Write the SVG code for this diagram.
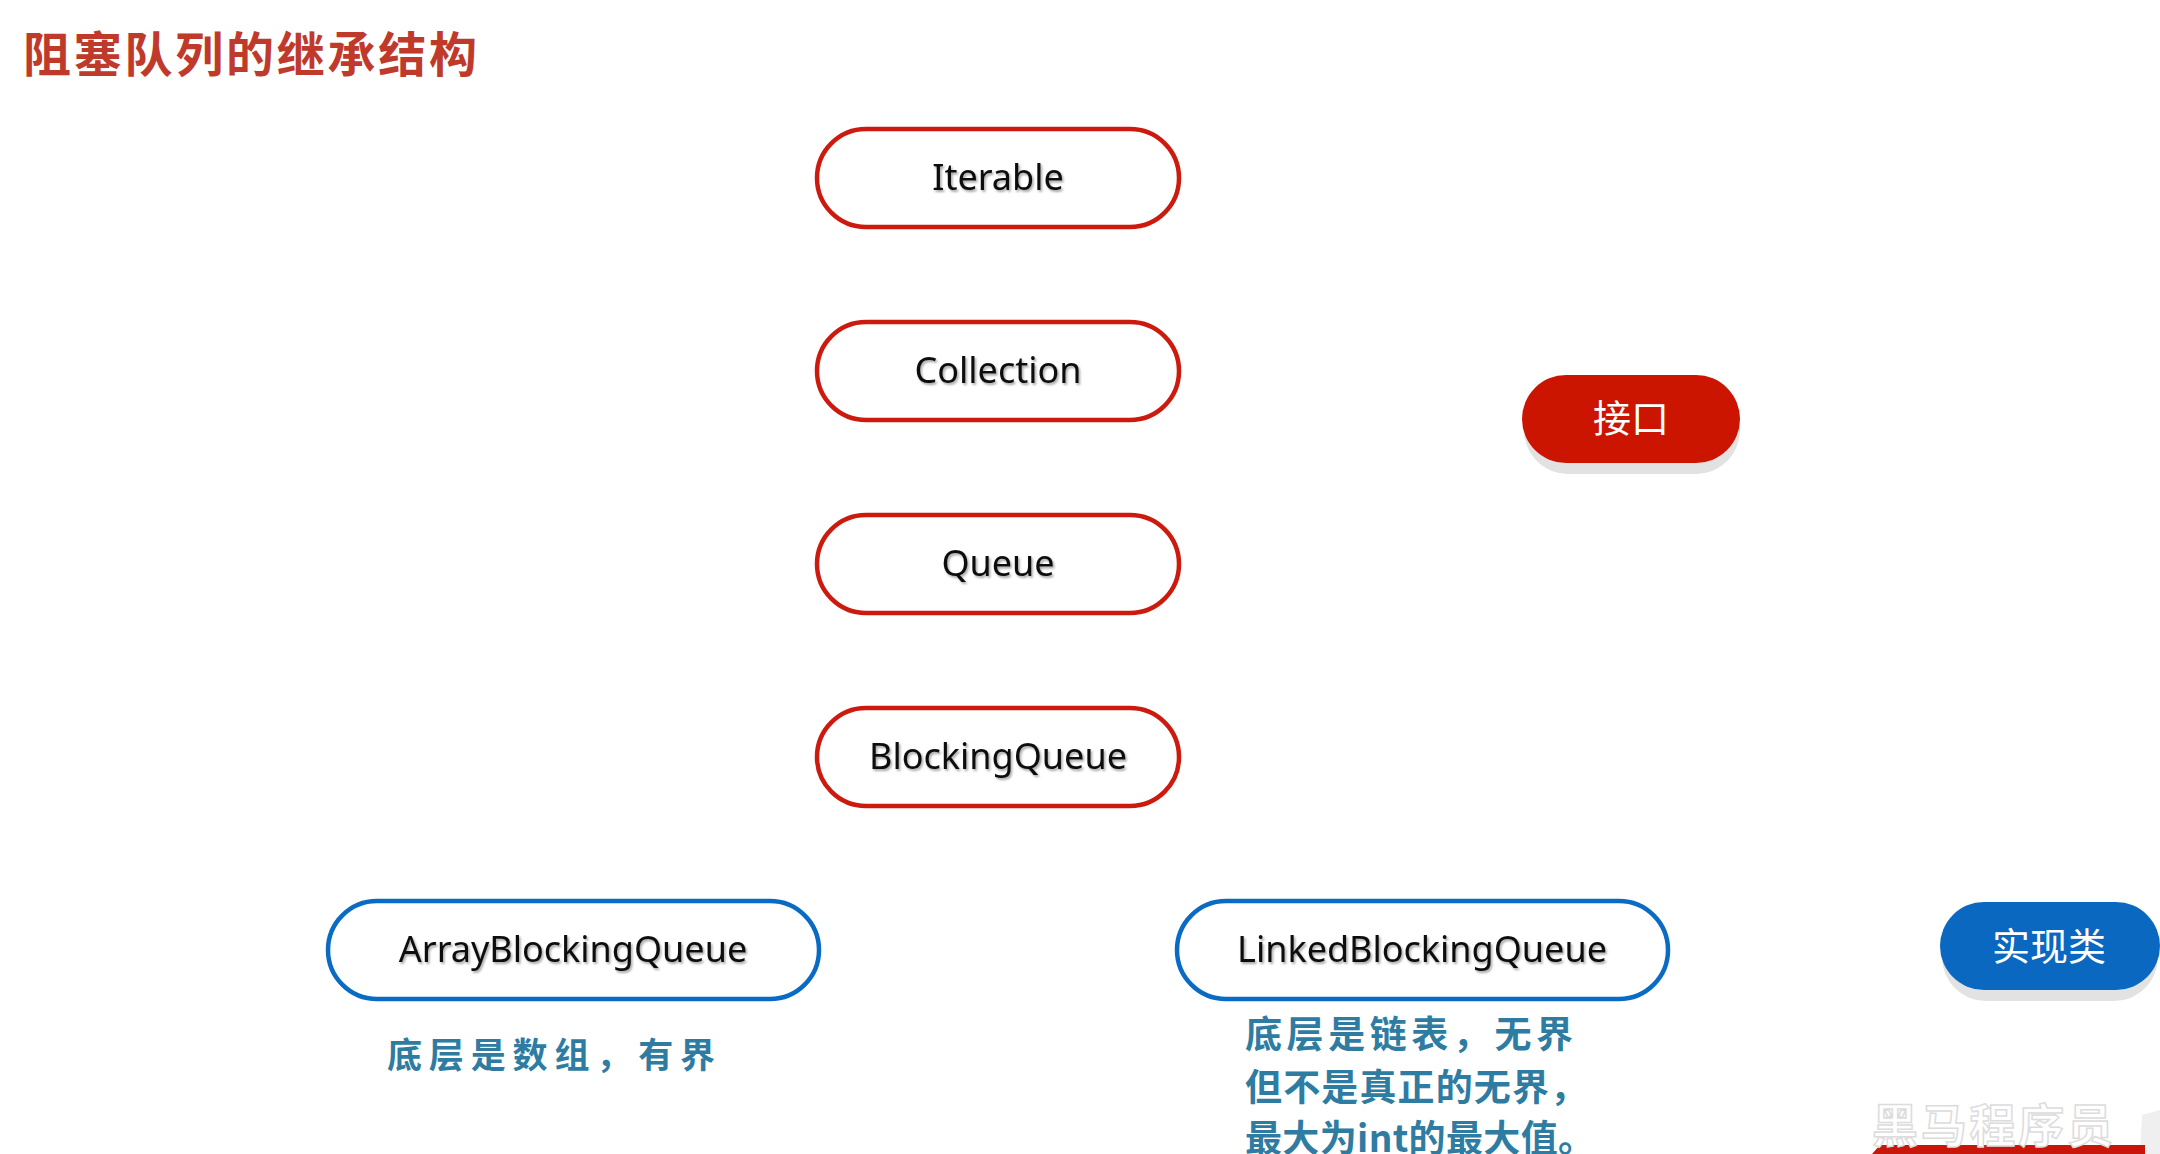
<svg xmlns="http://www.w3.org/2000/svg" width="2160" height="1154" viewBox="0 0 2160 1154">
<defs>
<filter id="ts" x="-10%" y="-30%" width="120%" height="160%">
<feDropShadow dx="1.5" dy="2" stdDeviation="1.2" flood-color="#000" flood-opacity="0.35"/>
</filter>
<style>
.iface{fill:#fff;stroke:#cc1a0e;stroke-width:4.5}
.impl{fill:#fff;stroke:#0a6bc4;stroke-width:4.5}
.lbl{font-family:"Noto Sans","Open Sans","Liberation Sans",sans-serif;font-size:36px;fill:#111;text-anchor:middle;filter:url(#ts)}
.title{font-family:"Noto Sans CJK SC",sans-serif;font-weight:bold;font-size:48px;fill:#bf3a2b}
.note{font-family:"Noto Sans CJK SC",sans-serif;font-weight:bold;fill:#2f7ca2}
.legtxt{font-family:"Noto Sans CJK SC",sans-serif;font-size:38px;fill:#fff;text-anchor:middle}
</style>
</defs>
<rect width="2160" height="1154" fill="#fff"/>
<text class="title" x="23" y="72" textLength="454">阻塞队列的继承结构</text>

<g id="connectors"></g>

<g id="iterable"><rect class="iface" x="817" y="129" width="362" height="98" rx="49"/><text class="lbl" x="998" y="190">Iterable</text></g>
<g id="collection"><rect class="iface" x="817" y="322" width="362" height="98" rx="49"/><text class="lbl" x="998" y="383">Collection</text></g>
<g id="queue"><rect class="iface" x="817" y="515" width="362" height="98" rx="49"/><text class="lbl" x="998" y="576">Queue</text></g>
<g id="blockingqueue"><rect class="iface" x="817" y="708" width="362" height="98" rx="49"/><text class="lbl" x="998" y="769">BlockingQueue</text></g>

<g id="arrayblockingqueue"><rect class="impl" x="328" y="901" width="491" height="98" rx="49"/><text class="lbl" x="573" y="962">ArrayBlockingQueue</text></g>
<g id="linkedblockingqueue"><rect class="impl" x="1177" y="901" width="491" height="98" rx="49"/><text class="lbl" x="1422" y="962">LinkedBlockingQueue</text></g>

<g id="note-array"><text class="note" font-size="35" x="387" y="1068" textLength="328">底层是数组，有界</text></g>
<g id="note-linked">
<text class="note" font-size="37" x="1245" y="1048" textLength="328">底层是链表，无界</text>
<text class="note" font-size="37" x="1245" y="1101" textLength="342">但不是真正的无界，</text>
<text class="note" font-size="37" x="1245" y="1152" textLength="350">最大为int的最大值。</text>
</g>

<g id="legend-interface">
<rect x="1524" y="386" width="216" height="88" rx="44" fill="#e2e2e2"/>
<rect x="1522" y="375" width="218" height="88" rx="44" fill="#cc1500"/>
<text class="legtxt" x="1631" y="432">接口</text>
</g>
<g id="legend-impl">
<rect x="1942" y="913" width="216" height="88" rx="44" fill="#e2e2e2"/>
<rect x="1940" y="902" width="220" height="88" rx="44" fill="#0a68c0"/>
<text class="legtxt" x="2049" y="960">实现类</text>
</g>

<g id="watermark">
<polygon points="2142,1115 2160,1110 2160,1154 2140,1154" fill="#efefef"/>
<polygon points="1880,1145 2145,1145 2145,1154 1872,1154" fill="#c8160a"/>
<text x="1872" y="1142" font-family="Noto Sans CJK SC,sans-serif" font-weight="bold" font-size="46" fill="#fff" stroke="#dcdcdc" stroke-width="1.5" textLength="241">黑马程序员</text>
</g>
</svg>
